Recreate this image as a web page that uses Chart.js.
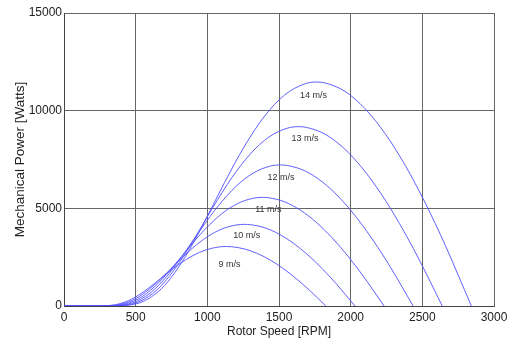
<!DOCTYPE html>
<html>
<head>
<meta charset="utf-8">
<script src="https://cdn.jsdelivr.net/npm/chart.js@4.4.1/dist/chart.umd.min.js"></script>
<style>
  html, body { margin: 0; padding: 0; background: #fff; }
  #wrap { width: 513px; height: 343px; }
</style>
</head>
<body>
<div id="wrap"><canvas id="powerChart" width="513" height="343"></canvas></div>
<script>
// wind speeds (m/s)
var speeds = [9, 10, 11, 12, 13, 14];

// rotor speed [RPM] and mechanical power [W]
var rpm9   = [0, 180, 270, 360, 450, 540, 630, 720, 810, 900, 990, 1080, 1134, 1170, 1260, 1350, 1440, 1530, 1620, 1710, 1827];
var power9 = [0, 0, 6, 69, 276, 651, 1145, 1680, 2176, 2584, 2871, 3022, 3046, 3034, 2920, 2685, 2346, 1914, 1403, 825, 0];

var rpm10   = [0, 200, 300, 400, 500, 600, 700, 800, 900, 1000, 1100, 1200, 1260, 1300, 1400, 1500, 1600, 1700, 1800, 1900, 2030];
var power10 = [0, 0, 8, 95, 378, 893, 1571, 2304, 2985, 3544, 3938, 4145, 4179, 4162, 4006, 3683, 3218, 2626, 1924, 1132, 0];

var rpm11   = [0, 220, 330, 440, 550, 660, 770, 880, 990, 1100, 1210, 1320, 1386, 1430, 1540, 1650, 1760, 1870, 1980, 2090, 2233];
var power11 = [0, 0, 11, 126, 503, 1189, 2091, 3067, 3973, 4717, 5241, 5517, 5562, 5540, 5332, 4902, 4283, 3495, 2561, 1507, 0];

var rpm12   = [0, 240, 360, 480, 600, 720, 840, 960, 1080, 1200, 1320, 1440, 1512, 1560, 1680, 1800, 1920, 2040, 2160, 2280, 2436];
var power12 = [0, 0, 15, 164, 653, 1543, 2715, 3981, 5158, 6124, 6805, 7163, 7221, 7192, 6922, 6364, 5561, 4538, 3325, 1956, 0];

var rpm13   = [0, 260, 390, 520, 650, 780, 910, 1040, 1170, 1300, 1430, 1560, 1638, 1690, 1820, 1950, 2080, 2210, 2340, 2470, 2639];
var power13 = [0, 0, 18, 209, 830, 1962, 3451, 5062, 6558, 7786, 8652, 9107, 9181, 9144, 8801, 8092, 7070, 5769, 4227, 2487, 0];

var rpm14   = [0, 280, 420, 560, 700, 840, 980, 1120, 1260, 1400, 1540, 1680, 1764, 1820, 1960, 2100, 2240, 2380, 2520, 2660, 2842];
var power14 = [0, 0, 23, 261, 1037, 2450, 4311, 6322, 8191, 9725, 10806, 11374, 11467, 11421, 10992, 10106, 8830, 7206, 5279, 3106, 0];

// where the "x m/s" tags sit, in data units
var labelRpm   = [1154, 1275, 1426, 1514, 1682, 1740];
var labelPower = [2114, 3598, 4964, 6602, 8582, 10763];

var xTicks = [0, 500, 1000, 1500, 2000, 2500, 3000];
var yTicks = [0, 5000, 10000, 15000];

var rpmSets = [rpm9, rpm10, rpm11, rpm12, rpm13, rpm14];
var powerSets = [power9, power10, power11, power12, power13, power14];

function toPoints(xs, ys) {
    return xs.map(function(x, i) { return { x: x, y: ys[i] }; });
}

var datasets = speeds.map(function(v, i) {
    return {
        label: v + ' m/s',
        data: toPoints(rpmSets[i], powerSets[i]),
        borderColor: 'rgba(80, 80, 255, 0.9)',
        borderWidth: 1,
        pointRadius: 0,
        fill: false,
        cubicInterpolationMode: 'monotone'
    };
});

// draw the speed tags inside the plot
var speedTags = {
    id: 'speedTags',
    afterDatasetsDraw: function(chart) {
        var ctx = chart.ctx;
        var xs = chart.scales.x, ys = chart.scales.y;
        ctx.save();
        ctx.font = '9px "Liberation Sans Narrow", "Liberation Sans", Arial, sans-serif';
        ctx.fillStyle = '#333';
        ctx.textAlign = 'center';
        ctx.textBaseline = 'middle';
        speeds.forEach(function(v, i) {
            ctx.fillText(v + ' m/s', xs.getPixelForValue(labelRpm[i]), ys.getPixelForValue(labelPower[i]));
        });
        ctx.restore();
    }
};

function plainTick(value) { return String(value); }

var ctx = document.getElementById('powerChart').getContext('2d');
var powerChart = new Chart(ctx, {
    type: 'line',
    data: { datasets: datasets },
    plugins: [speedTags],
    options: {
        responsive: false,
        animation: false,
        layout: { padding: { top: 13, right: 19, bottom: 0, left: 0 } },
        plugins: {
            legend: { display: false },
            tooltip: { enabled: false }
        },
        scales: {
            x: {
                type: 'linear',
                min: 0,
                max: 3000,
                afterBuildTicks: function(scale) {
                    scale.ticks = xTicks.map(function(v) { return { value: v }; });
                },
                afterFit: function(scale) { scale.height = 37; },
                grid: { color: '#666', lineWidth: 1, drawTicks: false },
                border: { color: '#444', width: 1 },
                ticks: {
                    padding: 4,
                    color: '#222',
                    maxRotation: 0,
                    callback: plainTick,
                    font: { family: '"Liberation Sans", Arial, sans-serif', size: 12 }
                },
                title: {
                    display: true,
                    text: 'Rotor Speed [RPM]',
                    color: '#222',
                    padding: { top: 0, bottom: 4 },
                    font: { family: '"Liberation Sans", Arial, sans-serif', size: 12 }
                }
            },
            y: {
                type: 'linear',
                min: 0,
                max: 15000,
                afterBuildTicks: function(scale) {
                    scale.ticks = yTicks.map(function(v) { return { value: v }; });
                },
                afterFit: function(scale) { scale.width = 64; },
                grid: { color: '#666', lineWidth: 1, drawTicks: false },
                border: { color: '#444', width: 1 },
                ticks: {
                    padding: 2,
                    color: '#222',
                    callback: plainTick,
                    font: { family: '"Liberation Sans", Arial, sans-serif', size: 12 }
                },
                title: {
                    display: true,
                    text: 'Mechanical Power [Watts]',
                    color: '#222',
                    padding: { top: 12, bottom: 0 },
                    font: { family: '"Liberation Sans", Arial, sans-serif', size: 13.5 }
                }
            }
        }
    }
});
</script>
</body>
</html>
